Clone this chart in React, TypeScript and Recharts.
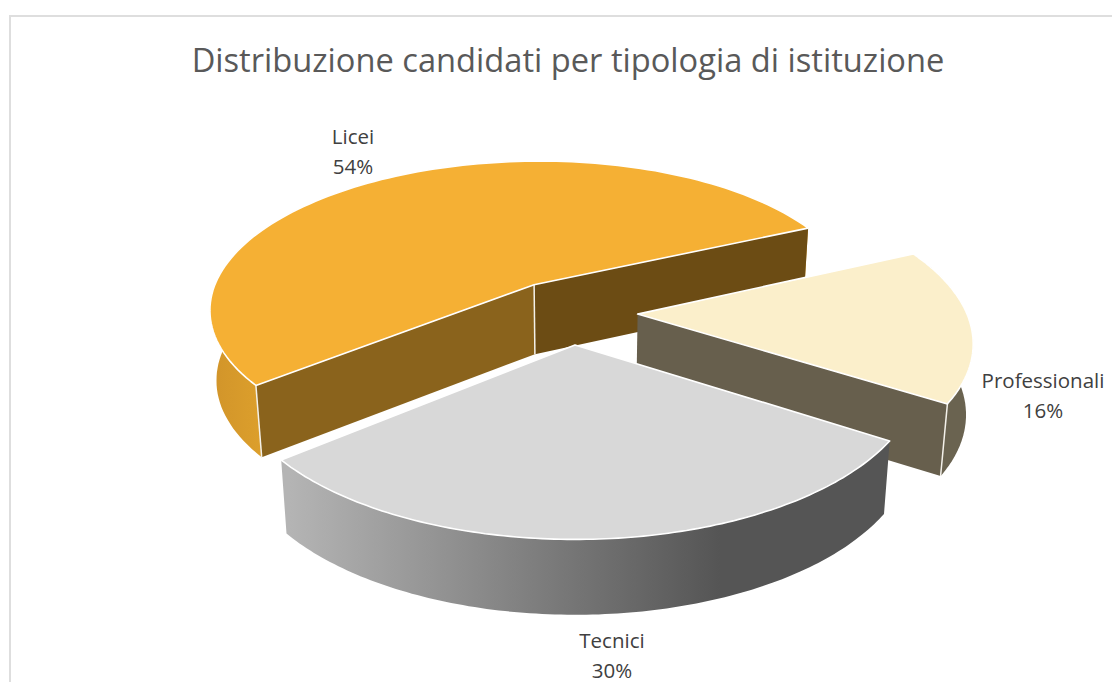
import { Pie, PieChart } from "recharts"

const categories = ["Licei", "Professionali", "Tecnici"]
const shares = [54, 16, 30]
const data = categories.map((name, i) => ({ name, value: shares[i] }))

const WIDTH = 1112
const HEIGHT = 682
const CX = 575
const CY = 310
const RADIUS = 328
const TILT = 0.46
const PERSPECTIVE = 0.16
const BOTTOM_SHRINK = 0.982

type SliceStyle = {
  top: string
  outer: [string, string]
  outerRange: [number, number]
  cutStart?: string
  cutEnd?: string
  shift: [number, number]
  label: [number, number]
}

const sliceStyles: Record<string, SliceStyle> = {
  Licei: {
    top: "#F5B034",
    outer: ["#D2952A", "#DDA02C"],
    outerRange: [215, 265],
    cutStart: "#8A631C",
    cutEnd: "#6C4C14",
    shift: [-0.128, -0.172],
    label: [353, 144],
  },
  Tecnici: {
    top: "#D8D8D8",
    outer: ["#B4B4B4", "#555555"],
    outerRange: [290, 720],
    shift: [0, 0.223],
    label: [612, 648],
  },
  Professionali: {
    top: "#FBEFCB",
    outer: ["#6A6350", "#6A6350"],
    outerRange: [930, 970],
    cutEnd: "#675F4D",
    shift: [0.19, 0.027],
    label: [1043, 388],
  },
}

function project(u: number, v: number, cx: number, cy: number, r: number) {
  const w = 1 / (1 - PERSPECTIVE * v)
  return { x: cx + r * u * w, y: cy + r * TILT * v * w, w }
}

function drop(p: { x: number; y: number; w: number }, cx: number) {
  return { x: cx + (p.x - cx) * BOTTOM_SHRINK, y: p.y + 48 + 22 * p.w, w: p.w }
}

const toPath = (pts: { x: number; y: number }[]) =>
  pts.map((p, i) => `${i ? "L" : "M"}${p.x.toFixed(1)} ${p.y.toFixed(1)}`).join(" ") + " Z"

const toLine = (a: { x: number; y: number }, b: { x: number; y: number }) =>
  `M${a.x.toFixed(1)} ${a.y.toFixed(1)} L${b.x.toFixed(1)} ${b.y.toFixed(1)}`

function Slice3D(props: any) {
  const { cx, cy, outerRadius, startAngle, endAngle, name, payload } = props
  const key = name ?? payload?.name
  const st = sliceStyles[key]
  const [ox, oy] = st.shift
  const gradId = `outer-${key}`

  const arc = []
  for (let i = 0; i <= 120; i++) {
    const deg = startAngle + ((endAngle - startAngle) * i) / 120
    const rad = (deg * Math.PI) / 180
    arc.push(project(ox + Math.cos(rad), oy - Math.sin(rad), cx, cy, outerRadius))
  }
  const apex = project(ox, oy, cx, cy, outerRadius)
  const apexLow = drop(apex, cx)
  const arcLow = arc.map((p) => drop(p, cx))
  const first = arc[0]
  const last = arc[arc.length - 1]
  const firstLow = arcLow[0]
  const lastLow = arcLow[arcLow.length - 1]

  return (
    <g>
      <defs>
        <linearGradient id={gradId} gradientUnits="userSpaceOnUse" x1={st.outerRange[0]} x2={st.outerRange[1]} y1={0} y2={0}>
          <stop offset="0%" stopColor={st.outer[0]} />
          <stop offset="100%" stopColor={st.outer[1]} />
        </linearGradient>
      </defs>
      <path d={toPath([...arc, ...[...arcLow].reverse()])} fill={`url(#${gradId})`} />
      {st.cutStart && <path d={toPath([apex, first, firstLow, apexLow])} fill={st.cutStart} />}
      {st.cutEnd && <path d={toPath([apex, last, lastLow, apexLow])} fill={st.cutEnd} />}
      {key === "Licei" && <path d={toLine(apex, apexLow)} stroke="#F4F1EA" strokeWidth={1.5} />}
      {key === "Licei" && <path d={toLine(first, firstLow)} stroke="#F4F1EA" strokeWidth={1.5} />}
      {key === "Professionali" && <path d={toLine(last, lastLow)} stroke="#F4F1EA" strokeWidth={1.5} />}
      <path d={toPath([apex, ...arc])} fill={st.top} stroke="#FFFFFF" strokeWidth={1.6} strokeLinejoin="round" />
    </g>
  )
}

function SliceLabel(props: any) {
  const { name, percent } = props
  const [x, y] = sliceStyles[name].label
  return (
    <text x={x} y={y} textAnchor="middle" fill="#404040" fontFamily="'Open Sans', sans-serif" fontSize={20.5}>
      <tspan x={x}>{name}</tspan>
      <tspan x={x} dy={29.5}>{`${Math.round(percent * 100)}%`}</tspan>
    </text>
  )
}

export default function App() {
  return (
    <div style={{ position: "absolute", left: 0, top: 0, width: WIDTH, height: HEIGHT, overflow: "hidden", background: "#fff" }}>
      <div
        style={{
          position: "absolute",
          left: 9,
          top: 15,
          width: WIDTH,
          height: HEIGHT,
          borderLeft: "2px solid #DEDEDE",
          borderTop: "2px solid #DEDEDE",
        }}
      />
      <div
        style={{
          position: "absolute",
          left: 0,
          top: 37,
          width: 1136,
          textAlign: "center",
          fontFamily: "'Open Sans', sans-serif",
          fontSize: 32.65,
          lineHeight: "46px",
          color: "#595959",
          whiteSpace: "nowrap",
        }}
      >
        Distribuzione candidati per tipologia di istituzione
      </div>
      <div style={{ position: "absolute", left: 0, top: 0 }}>
        <PieChart width={WIDTH} height={HEIGHT} margin={{ top: 0, right: 0, bottom: 0, left: 0 }}>
          <Pie
            data={data}
            dataKey="value"
            nameKey="name"
            cx={CX}
            cy={CY}
            innerRadius={0}
            outerRadius={RADIUS}
            startAngle={219.4}
            endAngle={-140.6}
            stroke="none"
            shape={Slice3D}
            label={SliceLabel}
            labelLine={false}
            isAnimationActive={false}
          />
        </PieChart>
      </div>
    </div>
  )
}
